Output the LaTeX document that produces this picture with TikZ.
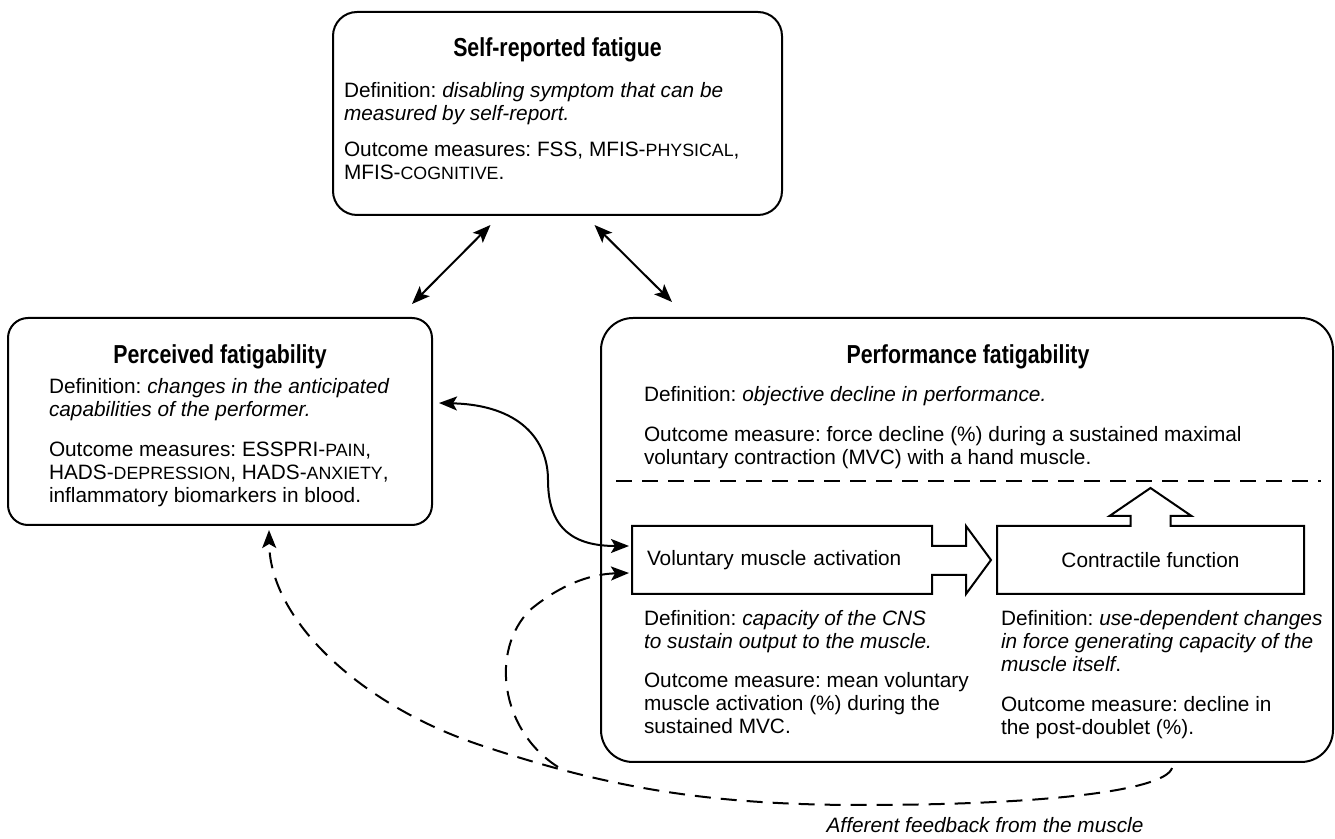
\documentclass[tikz,border=0pt]{standalone}
\usepackage{fontspec}
\setmainfont{Liberation Sans}
\newfontfamily\headfont[FakeStretch=0.82]{Liberation Sans}
\usetikzlibrary{calc}
\usetikzlibrary{arrows.meta}
\frenchspacing
\newcommand{\smc}[1]{{\fontsize{8.9}{9}\selectfont\MakeUppercase{#1}}}

\begin{document}
\begin{tikzpicture}[x=0.5pt, y=-0.5pt, line width=1pt,
    box/.style={draw, rounded corners=#1},
    box/.default=10pt,
    title/.style={font=\headfont\bfseries\fontsize{13}{15}\selectfont, anchor=base, inner sep=0},
    txt/.style={font=\fontsize{10.4}{11.5}\selectfont, align=left, anchor=north west, inner sep=0},
    link/.style={{Stealth[length=9pt,width=7pt,inset=2pt]}-{Stealth[length=9pt,width=7pt,inset=2pt]}},
    feed/.style={-{Stealth[length=9pt,width=7pt,inset=2pt]}, dash pattern=on 8pt off 5pt}]

    \useasboundingbox (0,0) rectangle (1335,839);

    \node[box=12pt, minimum width=224.5pt, minimum height=101.5pt] (self) at (557.5,113.5) {};
    \node[box=10pt, minimum width=212pt, minimum height=103.5pt] (perc) at (220,421.5) {};
    \node[box=16pt, minimum width=366pt, minimum height=222pt] (perf) at (967,540) {};

    \node[title] (selft) at (557.5,57) {Self-reported fatigue};
    \node[txt] (selfdef) at (343,81) {Definition: \textit{disabling symptom that can be}\\\textit{measured by self-report.}};
    \node[txt] (selfout) at (343,141) {Outcome measures: FSS, MFIS-\smc{physical},\\MFIS-\smc{cognitive}.};

    \node[title] (perct) at (220,364) {Perceived fatigability};
    \node[txt] (percdef) at (48,377) {Definition: \textit{changes in the anticipated}\\\textit{capabilities of the performer.}};
    \node[txt] (percout) at (48,441) {Outcome measures: ESSPRI-\smc{pain},\\HADS-\smc{depression}, HADS-\smc{anxiety},\\inflammatory biomarkers in blood.};

    \node[title] (perft) at (968,364) {Performance fatigability};
    \node[txt] (perfdef) at (643,385) {Definition: \textit{objective decline in performance.}};
    \node[txt] (perfout) at (643,425) {Outcome measure: force decline (\%) during a sustained maximal\\voluntary contraction (MVC) with a hand muscle.};
    \draw[dash pattern=on 8pt off 5pt] ($(perf.west)+(16,-59)$) -- ($(perf.east)+(-13,-59)$);

    \node[font=\fontsize{10.4}{11.5}\selectfont, minimum width=149pt, minimum height=33pt, text width=135pt, inner xsep=7pt, align=left] (vma) at (782,560) {Voluntary muscle activation};
    \node[font=\fontsize{10.4}{11.5}\selectfont, minimum width=152.5pt, minimum height=33pt] (cf) at (1150.5,560) {Contractile function};

    \draw (vma.north west) -- (vma.north east) -- ++(0,20) -- ++(34,0) -- ++(0,-20) -- ($(vma.east)+(59,0)$)
        -- ($(vma.south east)+(34,0)$) -- ++(0,-19) -- ++(-34,0) -- (vma.south east) -- (vma.south west) -- cycle;
    \draw (cf.north west) -- ($(cf.north)+(-20,0)$) -- ++(0,-10) -- ++(-21,0) -- ($(cf.north)+(0,-38)$)
        -- ($(cf.north)+(41,-10)$) -- ($(cf.north)+(20,-10)$) -- ($(cf.north)+(20,0)$) -- (cf.north east)
        -- (cf.south east) -- (cf.south west) -- cycle;

    \node[txt] (vmadef) at (643,609) {Definition: \textit{capacity of the CNS}\\\textit{to sustain output to the muscle.}};
    \node[txt] (vmaout) at (643,671) {Outcome measure: mean voluntary\\muscle activation (\%) during the\\sustained MVC.};
    \node[txt] (cfdef) at (1000,609) {Definition: \textit{use-dependent changes}\\\textit{in force generating capacity of the}\\\textit{muscle itself}.};
    \node[txt] (cfout) at (1000,695) {Outcome measure: decline in\\the post-doublet (\%).};

    \node[font=\itshape\fontsize{10.4}{12}\selectfont, anchor=base, inner sep=0] (afftxt) at (985,833) {Afferent feedback from the muscle};

    \draw[link] ($(self.south)+(-67,9)$) -- ($(perc.north)+(192,-13)$);
    \draw[link] ($(self.south)+(37,9)$) -- ($(perf.north)+(-295,-15)$);
    \draw[link] ($(perc.east)+(6,-18.5)$) .. controls (520,405) and (548,440) .. (548,480)
        .. controls (548,530) and (575,546) .. ($(vma.west)+(-3,-14)$);

    \coordinate (aff) at ($(perf.south)+(205,5)$);
    \coordinate (fork) at (558,767);
    \draw[feed] (aff) .. controls (1165,790) and (1050,805) .. (860,805)
        .. controls (700,805) and (600,785) .. (480,745)
        .. controls (360,705) and (270,620) .. ($(perc.south)+(49,4)$);
    \draw[feed] (fork) .. controls (500,730) and (490,650) .. (530,610)
        .. controls (560,585) and (590,574) .. ($(vma.west)+(-3,13)$);

\end{tikzpicture}
\end{document}
